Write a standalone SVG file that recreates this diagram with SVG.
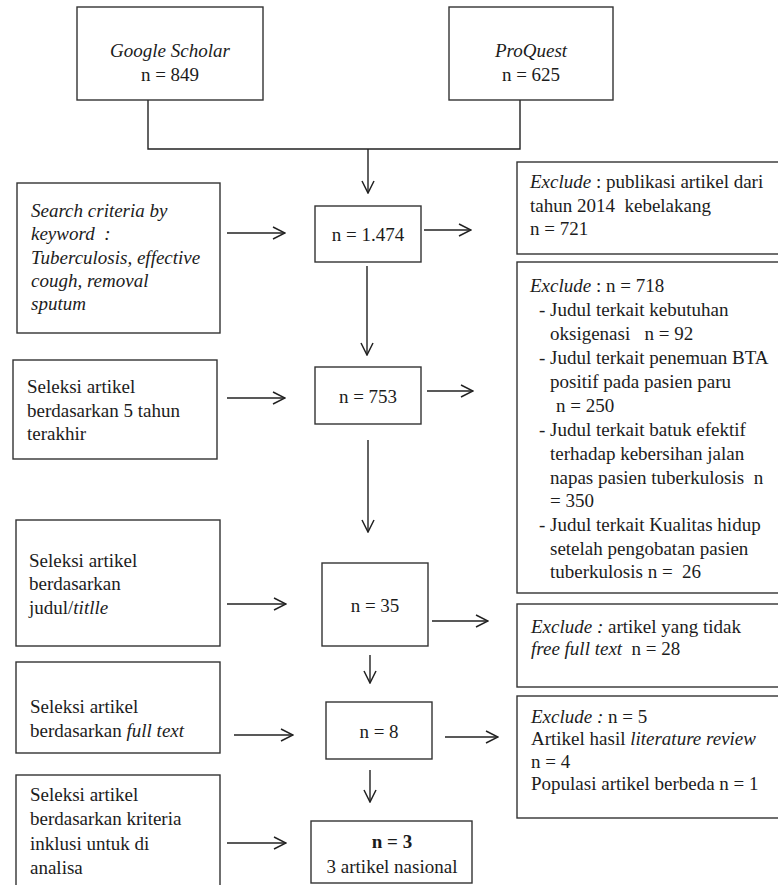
<svg xmlns="http://www.w3.org/2000/svg" width="778" height="885" viewBox="0 0 778 885">
<style>
.b{fill:#fff;stroke:#333;stroke-width:1.4}
text{font-family:"Liberation Serif","Times New Roman",serif;font-size:19px;fill:#1c1c1c;white-space:pre}
.m{text-anchor:middle}
.i{font-style:italic}
.k{font-weight:bold}
.c{fill:none;stroke:#222;stroke-width:1.4}
.a{fill:none;stroke:#222;stroke-width:1.4;marker-end:url(#ah)}
</style>
<defs>
<marker id="ah" viewBox="0 0 14 14" refX="13" refY="7" markerWidth="14" markerHeight="14" markerUnits="userSpaceOnUse" orient="auto">
<path d="M1,1 L13,7 L1,13" fill="none" stroke="#222" stroke-width="1.5"/>
</marker>
</defs>
<rect width="778" height="885" fill="#fff"/>

<g id="connectors">
<path class="c" d="M148,100 V149 H520 V100"/>
<line class="a" x1="368" y1="149" x2="368" y2="193"/>
<line class="a" x1="367" y1="266" x2="367" y2="355"/>
<line class="a" x1="368" y1="440" x2="368" y2="532"/>
<line class="a" x1="370" y1="655" x2="370" y2="683"/>
<line class="a" x1="370" y1="770" x2="370" y2="802"/>
<line class="a" x1="227" y1="233" x2="285" y2="233"/>
<line class="a" x1="424" y1="230" x2="471" y2="230"/>
<line class="a" x1="227" y1="398" x2="285" y2="398"/>
<line class="a" x1="427" y1="391" x2="473" y2="391"/>
<line class="a" x1="227" y1="604" x2="286" y2="604"/>
<line class="a" x1="432" y1="621" x2="488" y2="621"/>
<line class="a" x1="234" y1="735" x2="293" y2="735"/>
<line class="a" x1="445" y1="737" x2="498" y2="737"/>
<line class="a" x1="227" y1="843" x2="286" y2="843"/>
</g>

<g id="google-scholar">
<rect class="b" x="77" y="7" width="186" height="93"/>
<text class="m i" x="170" y="57">Google Scholar</text>
<text class="m" x="170" y="81">n = 849</text>
</g>
<g id="proquest">
<rect class="b" x="449" y="7" width="164" height="93"/>
<text class="m i" x="531" y="57">ProQuest</text>
<text class="m" x="531" y="81">n = 625</text>
</g>

<g id="search-criteria">
<rect class="b" x="17" y="183" width="203" height="150"/>
<text class="i" x="31" y="217">Search criteria by</text>
<text class="i" x="31" y="240">keyword  :</text>
<text class="i" x="31" y="264">Tuberculosis, effective</text>
<text class="i" x="31" y="287">cough, removal</text>
<text class="i" x="31" y="310">sputum</text>
</g>
<g id="seleksi-5-tahun">
<rect class="b" x="13" y="360" width="204" height="99"/>
<text x="27" y="393">Seleksi artikel</text>
<text x="27" y="417">berdasarkan 5 tahun</text>
<text x="27" y="440">terakhir</text>
</g>
<g id="seleksi-judul">
<rect class="b" x="16" y="520" width="204" height="126"/>
<text x="29" y="567">Seleksi artikel</text>
<text x="29" y="590">berdasarkan</text>
<text x="29" y="614">judul/<tspan class="i">titlle</tspan></text>
</g>
<g id="seleksi-full-text">
<rect class="b" x="16" y="662" width="204" height="91"/>
<text x="30" y="713">Seleksi artikel</text>
<text x="30" y="737">berdasarkan <tspan class="i">full text</tspan></text>
</g>
<g id="seleksi-kriteria">
<rect class="b" x="16" y="775" width="204" height="120"/>
<text x="30" y="801">Seleksi artikel</text>
<text x="30" y="825">berdasarkan kriteria</text>
<text x="30" y="850">inklusi untuk di</text>
<text x="30" y="874">analisa</text>
</g>

<g id="n1474">
<rect class="b" x="315" y="206" width="106" height="56"/>
<text class="m" x="368" y="241">n = 1.474</text>
</g>
<g id="n753">
<rect class="b" x="315" y="367" width="106" height="57"/>
<text class="m" x="368" y="403">n = 753</text>
</g>
<g id="n35">
<rect class="b" x="322" y="563" width="106" height="83"/>
<text class="m" x="375" y="612">n = 35</text>
</g>
<g id="n8">
<rect class="b" x="326" y="702" width="106" height="57"/>
<text class="m" x="379" y="738">n = 8</text>
</g>
<g id="n3">
<rect class="b" x="311" y="821" width="161" height="62"/>
<text class="m k" x="392" y="848">n = 3</text>
<text class="m" x="392" y="873">3 artikel nasional</text>
</g>

<g id="exclude-tahun">
<rect class="b" x="517" y="162" width="280" height="92"/>
<text x="530" y="188"><tspan class="i">Exclude</tspan> : publikasi artikel dari</text>
<text x="530" y="212">tahun 2014  kebelakang</text>
<text x="530" y="235">n = 721</text>
</g>
<g id="exclude-judul">
<rect class="b" x="517" y="262" width="280" height="331"/>
<text x="530" y="292"><tspan class="i">Exclude</tspan> : n = 718</text>
<text x="539" y="316">- Judul terkait kebutuhan</text>
<text x="550" y="340">oksigenasi   n = 92</text>
<text x="539" y="364">- Judul terkait penemuan BTA</text>
<text x="550" y="388">positif pada pasien paru</text>
<text x="556" y="412">n = 250</text>
<text x="539" y="436">- Judul terkait batuk efektif</text>
<text x="550" y="460">terhadap kebersihan jalan</text>
<text x="550" y="484">napas pasien tuberkulosis  n</text>
<text x="550" y="507">= 350</text>
<text x="539" y="531">- Judul terkait Kualitas hidup</text>
<text x="550" y="555">setelah pengobatan pasien</text>
<text x="550" y="578">tuberkulosis n =  26</text>
</g>
<g id="exclude-fulltext">
<rect class="b" x="517" y="604" width="280" height="83"/>
<text x="531" y="633"><tspan class="i">Exclude :</tspan> artikel yang tidak</text>
<text x="531" y="655"><tspan class="i">free full text</tspan>  n = 28</text>
</g>
<g id="exclude-review">
<rect class="b" x="517" y="696" width="280" height="122"/>
<text x="531" y="723"><tspan class="i">Exclude :</tspan> n = 5</text>
<text x="531" y="745">Artikel hasil <tspan class="i">literature review</tspan></text>
<text x="531" y="768">n = 4</text>
<text x="531" y="790">Populasi artikel berbeda n = 1</text>
</g>
</svg>
